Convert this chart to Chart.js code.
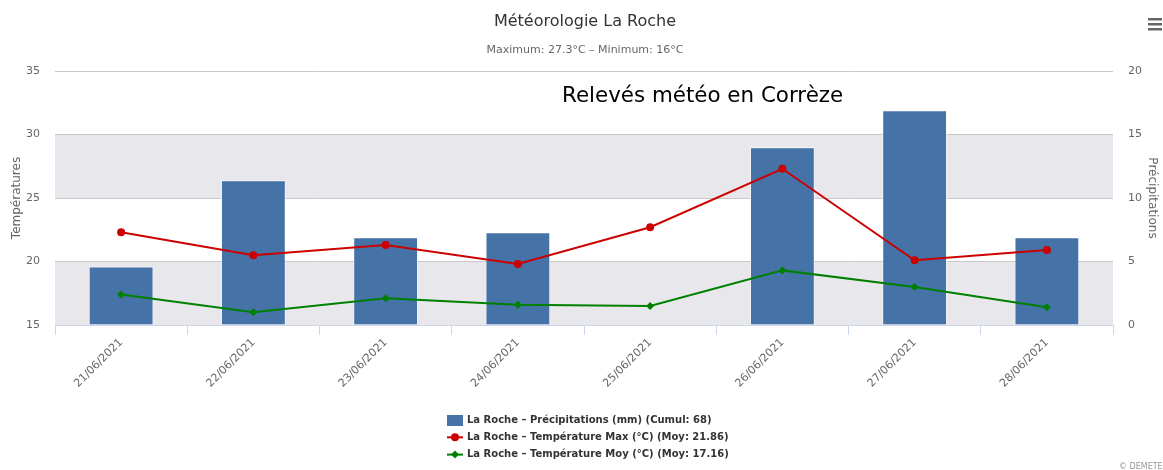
<!DOCTYPE html>
<html><head><meta charset="utf-8">
<script src="https://cdn.jsdelivr.net/npm/chart.js@4.4.1/dist/chart.umd.min.js"></script>
<style>html,body{margin:0;padding:0;background:#fff;}canvas{display:block;}</style>
</head><body>
<canvas id="c" width="1163" height="470"></canvas>
<script>
const categories = ['21/06/2021','22/06/2021','23/06/2021','24/06/2021','25/06/2021','26/06/2021','27/06/2021','28/06/2021'];
const precipitations = [4.6, 11.4, 6.9, 7.3, 0, 14.0, 16.9, 6.9];
const tempMax = [22.3, 20.5, 21.3, 19.8, 22.7, 27.3, 20.1, 20.9];
const tempMoy = [17.4, 16.0, 17.1, 16.6, 16.5, 19.3, 18.0, 16.4];
const leftTicks = [15, 20, 25, 30, 35];
const rightTicks = [0, 5, 10, 15, 20];
const plotBands = [[25, 30], [15, 20]];
const seriesNames = [
  'La Roche – Précipitations (mm) (Cumul: 68)',
  'La Roche – Température Max (°C) (Moy: 21.86)',
  'La Roche – Température Moy (°C) (Moy: 17.16)'
];
const chartTitle = 'Météorologie La Roche';
const chartSubtitle = 'Maximum: 27.3°C – Minimum: 16°C';
const annotationText = 'Relevés météo en Corrèze';
const creditText = '© DEMETER';
const leftAxisTitle = 'Températures';
const rightAxisTitle = 'Précipitations';

const FONT = '"DejaVu Sans", Verdana, sans-serif';
const COLORS = ['#4572A7', '#cc0000', '#008000'];

const decor = {
  id: 'decor',
  beforeDraw(chart) {
    const ctx = chart.ctx, a = chart.chartArea, y = chart.scales.y;
    ctx.save();
    ctx.fillStyle = '#fff';
    ctx.fillRect(0, 0, chart.width, chart.height);
    ctx.fillStyle = '#e8e8ec';
    plotBands.forEach(([lo, hi]) => {
      const t = y.getPixelForValue(hi), b = y.getPixelForValue(lo);
      ctx.fillRect(a.left, t, a.right - a.left, b - t);
    });
    ctx.restore();
  },
  afterDraw(chart) {
    const ctx = chart.ctx;
    ctx.save();
    ctx.textAlign = 'center';
    ctx.textBaseline = 'middle';
    ctx.fillStyle = '#333';
    ctx.font = '16px ' + FONT;
    ctx.fillText(chartTitle, 585, 22);
    ctx.fillStyle = '#666';
    ctx.font = '11px ' + FONT;
    ctx.fillText(chartSubtitle, 585, 50);
    ctx.textAlign = 'left';
    ctx.fillStyle = '#000';
    ctx.font = '21.4px ' + FONT;
    ctx.fillText(annotationText, 562, 96);

    // legend
    ctx.font = 'bold 10px ' + FONT;
    const ds = chart.data.datasets;
    const x0 = 447;
    ds.forEach((d, i) => {
      const cy = 420 + i * 17.3;
      if (d.type === 'bar') {
        ctx.fillStyle = d.backgroundColor;
        ctx.fillRect(x0, cy - 5, 16, 11);
      } else {
        ctx.strokeStyle = d.borderColor;
        ctx.lineWidth = 2;
        ctx.beginPath(); ctx.moveTo(x0, cy); ctx.lineTo(x0 + 16, cy); ctx.stroke();
        ctx.fillStyle = d.borderColor;
        ctx.beginPath();
        if (d.pointStyle === 'rectRot') {
          ctx.moveTo(x0 + 8, cy - 4); ctx.lineTo(x0 + 12, cy); ctx.lineTo(x0 + 8, cy + 4); ctx.lineTo(x0 + 4, cy);
          ctx.closePath();
        } else {
          ctx.arc(x0 + 8, cy, 4, 0, Math.PI * 2);
        }
        ctx.fill();
      }
      ctx.fillStyle = '#333';
      ctx.fillText(d.label, x0 + 20, cy);
    });

    // credit
    ctx.fillStyle = '#999';
    ctx.font = '8px ' + FONT;
    ctx.fillText(creditText, 1119, 467);

    // menu icon
    ctx.fillStyle = '#666';
    [19, 24, 29].forEach(yy => ctx.fillRect(1148, yy - 1, 14, 2.5));
    ctx.restore();
  }
};

new Chart(document.getElementById('c'), {
  type: 'bar',
  data: {
    labels: categories,
    datasets: [
      { type: 'bar', label: seriesNames[0], data: precipitations, yAxisID: 'y1',
        backgroundColor: COLORS[0], borderColor: 'rgba(255,255,255,0.55)', borderWidth: 1,
        barPercentage: 0.49, categoryPercentage: 1, order: 3 },
      { type: 'line', label: seriesNames[1], data: tempMax, yAxisID: 'y',
        borderColor: COLORS[1], backgroundColor: COLORS[1], borderWidth: 2,
        pointRadius: 4, pointStyle: 'circle', pointBorderWidth: 0, tension: 0, order: 1 },
      { type: 'line', label: seriesNames[2], data: tempMoy, yAxisID: 'y',
        borderColor: COLORS[2], backgroundColor: COLORS[2], borderWidth: 2,
        pointRadius: 4, pointStyle: 'rectRot', pointBorderWidth: 0, tension: 0, order: 2 }
    ]
  },
  options: {
    responsive: false,
    animation: false,
    layout: { padding: { top: 71, bottom: 65, left: 0, right: 0 } },
    plugins: { legend: { display: false }, title: { display: false }, tooltip: { enabled: false } },
    scales: {
      x: {
        type: 'category', offset: true,
        grid: { display: true, drawOnChartArea: false, drawTicks: true, tickLength: 10, color: '#ccd6eb', offset: true },
        border: { display: true, color: '#ccd6eb', width: 1 },
        ticks: { minRotation: 45, maxRotation: 45, autoSkip: false, color: '#666', padding: 1, font: { size: 11, family: FONT } },
        afterFit(s) { s.height = 80; }
      },
      y: {
        position: 'left', min: 15, max: 35,
        afterBuildTicks(s) { s.ticks = leftTicks.map(v => ({ value: v })); },
        grid: { drawTicks: false, color: c => (c.tick && c.tick.value === 15) ? 'rgba(0,0,0,0)' : '#c8c8c8' },
        border: { display: false },
        ticks: { color: '#666', padding: 15, font: { size: 11, family: FONT } },
        title: { display: true, text: leftAxisTitle, color: '#666', font: { size: 12, family: FONT }, padding: { top: 10, bottom: 4 } },
        afterFit(s) { s.width = 55; }
      },
      y1: {
        position: 'right', min: 0, max: 20,
        afterBuildTicks(s) { s.ticks = rightTicks.map(v => ({ value: v })); },
        grid: { drawOnChartArea: false, drawTicks: false },
        border: { display: false },
        ticks: { color: '#666', padding: 15, font: { size: 11, family: FONT } },
        title: { display: true, text: rightAxisTitle, color: '#666', font: { size: 12, family: FONT }, padding: { top: 4, bottom: 4 } },
        afterFit(s) { s.width = 50; }
      }
    }
  },
  plugins: [decor]
});
</script>
</body></html>
